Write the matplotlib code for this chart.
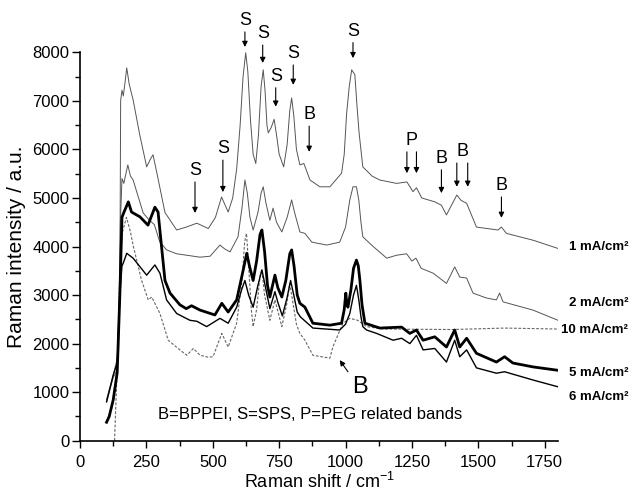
import matplotlib
matplotlib.use("Agg")
import matplotlib.pyplot as plt
from matplotlib.ticker import MultipleLocator

plt.rcParams["font.family"] = ["Liberation Sans", "DejaVu Sans"]
plt.rcParams["mathtext.fontset"] = "custom"
plt.rcParams["mathtext.rm"] = "Liberation Sans"
plt.rcParams["mathtext.it"] = "Liberation Sans"

# spectra (Raman shift, intensity)
x_1mA = [100, 110, 125, 140, 150, 153, 158, 163, 170, 176, 185, 200, 225, 251, 265, 275,
         290, 320, 364, 400, 440, 483, 510, 533, 558, 575, 590, 603, 614, 624, 632, 642,
         652, 662, 672, 682, 690, 697, 704, 709, 720, 731, 740, 750, 767, 780, 790, 797,
         805, 815, 828, 843, 866, 903, 941, 985, 995, 1004, 1014, 1023, 1035, 1043, 1051,
         1065, 1100, 1129, 1192, 1231, 1254, 1267, 1287, 1336, 1361, 1380, 1419, 1435,
         1456, 1493, 1574, 1587, 1606, 1706, 1800]
y_1mA = [800, 1000, 1300, 1450, 3000, 7000, 7220, 7100, 7400, 7680, 7350, 7020, 6300, 5640,
         5800, 5890, 5500, 4700, 4340, 4400, 4480, 4370, 4600, 5020, 4710, 5000, 5600, 6500,
         7500, 7990, 7600, 6600, 5900, 5710, 6300, 7300, 7640, 7200, 6500, 6340, 6450, 6620,
         6300, 5900, 5640, 6100, 6800, 7060, 6700, 6000, 5680, 5710, 5370, 5230, 5230, 5510,
         5900, 6740, 7300, 7640, 7540, 6900, 6340, 5640, 5450, 5370, 5300, 5330, 5130, 5210,
         5000, 4920, 4850, 4650, 5060, 4950, 4890, 4400, 4340, 4400, 4270, 4130, 3960]

x_2mA = [100, 125, 145, 152, 158, 165, 180, 190, 200, 238, 260, 280, 300, 326, 364, 402,
         452, 490, 527, 545, 565, 595, 610, 621, 630, 640, 652, 670, 682, 690, 700, 715,
         727, 740, 760, 780, 797, 808, 828, 847, 873, 929, 978, 1000, 1016, 1028, 1041,
         1050, 1058, 1065, 1104, 1155, 1192, 1230, 1250, 1265, 1285, 1330, 1380, 1411,
         1430, 1456, 1480, 1530, 1568, 1580, 1593, 1706, 1800]
y_2mA = [850, 1350, 1800, 4500, 5400, 5300, 5680, 5450, 5370, 4690, 4550, 4450, 4100, 3930,
         3850, 3820, 3780, 3800, 4030, 3950, 3890, 4200, 4800, 5370, 5100, 4600, 4340, 4700,
         5100, 5230, 4900, 4540, 4790, 4500, 4300, 4600, 4960, 4700, 4300, 4270, 4090, 4030,
         4090, 4400, 4960, 5230, 5230, 4950, 4500, 4200, 4000, 3760, 3820, 3850, 3700, 3760,
         3550, 3450, 3240, 3580, 3370, 3350, 3040, 2940, 2900, 3040, 2860, 2690, 2480]

x_5mA = [100, 110, 125, 140, 150, 158, 165, 182, 194, 226, 256, 282, 294, 307, 320, 339,
         376, 400, 420, 452, 508, 534, 558, 590, 610, 628, 638, 652, 665, 678, 685, 695,
         706, 715, 734, 745, 760, 775, 790, 797, 806, 818, 828, 847, 877, 941, 985, 995,
         1001, 1005, 1009, 1020, 1030, 1041, 1048, 1054, 1062, 1073, 1129, 1211, 1242,
         1267, 1292, 1336, 1380, 1411, 1430, 1456, 1493, 1568, 1599, 1630, 1706, 1800]
y_5mA = [380, 500, 840, 1400, 3000, 4600, 4700, 4920, 4710, 4610, 4440, 4810, 4710, 4000,
         3300, 3040, 2800, 2720, 2780, 2690, 2590, 2830, 2650, 2900, 3400, 3860, 3600, 3300,
         3700, 4250, 4340, 3900, 3200, 2960, 3410, 3150, 2960, 3300, 3850, 3930, 3600, 3000,
         2830, 2750, 2420, 2380, 2420, 2700, 3040, 2800, 2750, 3100, 3550, 3720, 3600, 3300,
         2800, 2420, 2320, 2340, 2210, 2280, 2070, 2140, 1930, 2280, 1930, 2110, 1800, 1620,
         1730, 1600, 1520, 1450]

x_6mA = [100, 125, 140, 150, 158, 163, 176, 200, 251, 282, 301, 326, 364, 414, 440, 477,
         527, 558, 590, 608, 621, 635, 652, 670, 685, 697, 715, 734, 745, 762, 780, 793,
         805, 818, 830, 877, 978, 1000, 1016, 1030, 1041, 1050, 1058, 1065, 1079, 1117,
         1179, 1211, 1242, 1267, 1292, 1336, 1380, 1411, 1430, 1456, 1493, 1568, 1599,
         1706, 1800]
y_6mA = [800, 1350, 1600, 3000, 3600, 3660, 3860, 3760, 3410, 3620, 3450, 2900, 2620, 2480,
         2460, 2350, 2520, 2420, 2750, 3100, 3300, 3000, 2750, 3200, 3520, 3200, 2720, 3070,
         2850, 2570, 2950, 3300, 3000, 2650, 2550, 2320, 2280, 2400, 2620, 3000, 3200, 2900,
         2550, 2350, 2280, 2210, 2070, 2110, 2000, 2170, 1870, 1900, 1620, 2070, 1730, 1870,
         1500, 1390, 1420, 1250, 1110]

x_10mA = [130, 140, 150, 160, 175, 190, 201, 232, 257, 270, 301, 332, 376, 402, 427, 452,
          483, 501, 534, 558, 590, 610, 620, 627, 635, 645, 652, 665, 678, 685, 695, 715,
          734, 760, 778, 790, 800, 815, 828, 847, 877, 941, 952, 990, 1016, 1046, 1079, 1142,
          1400, 1600, 1800]
y_10mA = [0, 1500, 3500, 4300, 4600, 4300, 4000, 3300, 2900, 2960, 2620, 2070, 1870, 1760,
          1900, 1760, 1720, 1730, 2210, 1930, 2420, 3300, 4100, 4270, 3600, 2700, 2350, 2700,
          3400, 3520, 3000, 2480, 2900, 2350, 2800, 3240, 2900, 2400, 2210, 2070, 1760, 1700,
          1930, 2420, 2520, 2480, 2350, 2300, 2290, 2320, 2300]

series_labels = ["1 mA/cm²", "2 mA/cm²", "10 mA/cm²", "5 mA/cm²", "6 mA/cm²"]
label_y = [3990, 2840, 2280, 1390, 900]

# band markers: label, arrow x positions, arrow tip, arrow tail
band_text = ["S", "S", "S", "S", "S", "S", "B", "S", "P", "B", "B", "B"]
band_x = [[433], [538], [621], [688], [737], [803], [863], [1028],
          [1231, 1267], [1361], [1419, 1460], [1587]]
band_tip = [4690, 5120, 8110, 7780, 6880, 7330, 5950, 7880, 5510, 5100, 5230, 4590]
band_tail = [5330, 5780, 8420, 8150, 7270, 7740, 6480, 8200, 5950, 5580, 5720, 5020]

fig = plt.figure(figsize=(6.33, 4.94), dpi=100)
ax = fig.add_axes([0.1264, 0.1079, 0.7551, 0.7862])

ax.plot(x_1mA, y_1mA, color="#555555", lw=0.7)
ax.plot(x_2mA, y_2mA, color="#555555", lw=0.7)
ax.plot(x_10mA, y_10mA, color="#666666", lw=0.8, dashes=(2.5, 1.5))
ax.plot(x_5mA, y_5mA, color="black", lw=2.0)
ax.plot(x_6mA, y_6mA, color="black", lw=1.0)

ax.set_xlim(0, 1800)
ax.set_ylim(0, 8000)
ax.xaxis.set_major_locator(MultipleLocator(250))
ax.xaxis.set_minor_locator(MultipleLocator(125))
ax.yaxis.set_major_locator(MultipleLocator(1000))
ax.yaxis.set_minor_locator(MultipleLocator(500))
ax.tick_params(which="major", direction="out", width=1, labelsize=12)
ax.tick_params(axis="x", which="major", length=5, pad=5)
ax.tick_params(axis="y", which="major", length=6, pad=1.5)
ax.tick_params(which="minor", direction="out", length=3.5, width=1)
ax.spines["top"].set_visible(False)
ax.spines["right"].set_visible(False)
ax.spines["left"].set_linewidth(1.2)
ax.spines["bottom"].set_linewidth(1.2)

ax.set_xlabel("Raman shift / cm$^{-1}$", fontsize=13, labelpad=2)
ax.set_ylabel("Raman intensity / a.u.", fontsize=15, labelpad=5)

for lab, ly in zip(series_labels, label_y):
    ax.text(2064, ly, lab, fontsize=9.5, fontweight="bold", va="center", ha="right",
            clip_on=False)

for txt, xs, tip, tail in zip(band_text, band_x, band_tip, band_tail):
    for bx in xs:
        ax.annotate("", xy=(bx, tip), xytext=(bx, tail), annotation_clip=False,
                    arrowprops=dict(arrowstyle="-|>", color="black", lw=0.8,
                                    mutation_scale=8, shrinkA=0, shrinkB=0))
    ax.text(sum(xs) / len(xs), tail + 60, txt, fontsize=13, ha="center", va="bottom",
            clip_on=False)

ax.annotate("", xy=(978, 1660), xytext=(1009, 1420),
            arrowprops=dict(arrowstyle="-|>", color="black", lw=0.8,
                            mutation_scale=8, shrinkA=0, shrinkB=0))
ax.text(1054, 1110, "B", fontsize=17, ha="center", va="center")

ax.text(294, 530, "B=BPPEI, S=SPS, P=PEG related bands", fontsize=12, ha="left",
        va="center")

fig.savefig("out.png", dpi=100)
